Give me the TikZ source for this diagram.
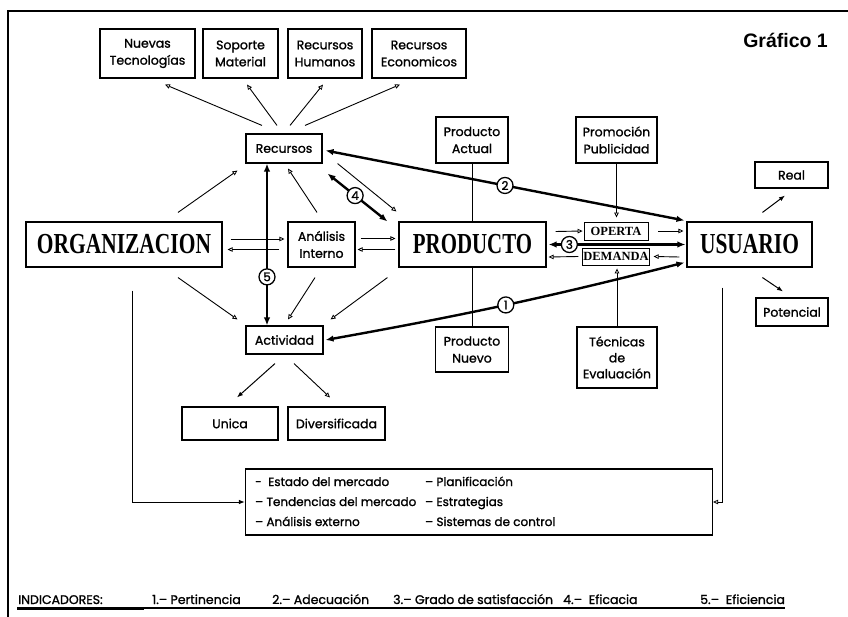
\documentclass[tikz,border=0pt]{standalone}
\usepackage{fontspec}
\usepackage{graphicx}
\usetikzlibrary{arrows.meta}
\newfontfamily\lblfont{Poppins}[FakeBold=1.3]
\newfontfamily\serifbig{Liberation Serif}
\newfontfamily\sansbold{Liberation Sans}
\begin{document}
\begin{tikzpicture}[x=1pt,y=-1pt,
  box/.style={draw, line width=1.1pt, align=center, inner sep=1pt, font=\lblfont\fontsize{12.5}{17}\selectfont},
  bigbox/.style={draw, line width=1.1pt, inner sep=1pt, minimum height=45pt, font=\serifbig\bfseries\fontsize{29}{29}\selectfont},
  tagbox/.style={draw, line width=0.9pt, inner sep=0.5pt, minimum width=64pt, font=\serifbig\bfseries\fontsize{12.5}{12.5}\selectfont},
  tarrow/.style={line width=0.9pt, -{Triangle[open,length=5pt,width=4.5pt,line width=0.8pt]}},
  sarrow/.style={line width=1pt, -{Latex[length=6pt,width=4.5pt]}},
  link/.style={line width=1pt},
  bolda/.style={line width=2.4pt, {Latex[length=8pt,width=6.5pt]}-{Latex[length=8pt,width=6.5pt]}},
  num/.style={circle, draw, line width=1.3pt, fill=white, inner sep=0pt, minimum size=16pt, font=\lblfont\fontsize{12}{12}\selectfont},
  foot/.style={anchor=base west, inner sep=0pt, font=\lblfont\fontsize{12.5}{12}\selectfont}
]
\useasboundingbox (0,0) rectangle (848,617);
% frame
\draw[line width=1.4pt] (8,617) -- (8,11) -- (848,11);
\node[anchor=base east, inner sep=0pt, font=\sansbold\bfseries\fontsize{19.5}{20}\selectfont] (title) at (828,48) {Gráfico 1};

% top boxes
\node[box, minimum width=95pt, minimum height=49pt] (nt) at (147.5,53.5) {Nuevas\\Tecnologías};
\node[box, minimum width=75pt, minimum height=49pt] (sm) at (240.5,53.5) {Soporte\\Material};
\node[box, minimum width=74pt, minimum height=49pt] (rh) at (325,53.5) {Recursos\\Humanos};
\node[box, minimum width=94pt, minimum height=49pt] (re) at (419,53.5) {Recursos\\Economicos};

\node[box, minimum width=76pt, minimum height=29pt] (rec) at (284,148.5) {Recursos};
\node[box, minimum width=72pt, minimum height=46pt] (pa) at (472,140) {Producto\\Actual};
\node[box, minimum width=81pt, minimum height=46pt] (pp) at (616.5,140) {Promoción\\Publicidad};
\node[box, minimum width=73pt, minimum height=26pt] (real) at (791.5,175) {Real};

\node[bigbox, minimum width=196pt] (org) at (124,244.5) {\scalebox{0.74}[1]{ORGANIZACION}};
\node[box, minimum width=67pt, minimum height=45pt] (an) at (321.5,244.5) {Análisis\\Interno};
\node[bigbox, minimum width=147pt] (prod) at (472.5,244.5) {\scalebox{0.72}[1]{PRODUCTO}};
\node[tagbox, minimum height=18pt] (op) at (616,231) {OPERTA};
\node[tagbox, minimum height=17pt] (dem) at (616,256.5) {DEMANDA};
\node[bigbox, minimum width=125pt] (usu) at (749.5,244.5) {\scalebox{0.74}[1]{USUARIO}};

\node[box, minimum width=72pt, minimum height=28pt] (pot) at (792,312) {Potencial};
\node[box, minimum width=77pt, minimum height=28pt] (act) at (284.5,340) {Actividad};
\node[box, minimum width=73pt, minimum height=45pt] (pn) at (472,349.5) {Producto\\Nuevo};
\node[box, minimum width=80pt, minimum height=61pt, font=\lblfont\fontsize{12.5}{16}\selectfont] (te) at (617,357.5) {Técnicas\\de\\Evaluación};
\node[box, minimum width=96pt, minimum height=33pt] (un) at (230,423.5) {Unica};
\node[box, minimum width=97pt, minimum height=33pt] (div) at (336.5,423.5) {Diversificada};

\node[draw, line width=1.1pt, minimum width=467pt, minimum height=66pt, inner sep=0pt] (bb) at (479,502) {};
\node[anchor=west, inner sep=0pt, align=left, font=\lblfont\fontsize{12}{20}\selectfont] (bbtext) at ([xshift=10]bb.west)
  {\begin{tabular}{@{}p{170pt}@{}l@{}}
   -\ \ Estado del mercado & – Planificación\\
   – Tendencias del mercado & – Estrategias\\
   – Análisis externo & – Sistemas de control
   \end{tabular}};

% Recursos to top boxes
\draw[tarrow] ([shift={(-22,-8)}]rec.north) -- ([shift={(17.5,6)}]nt.south);
\draw[tarrow] ([shift={(-7,-8)}]rec.north) -- ([shift={(6.5,6)}]sm.south);
\draw[tarrow] ([shift={(6,-8)}]rec.north) -- ([shift={(-2,6)}]rh.south);
\draw[tarrow] ([shift={(21,-8)}]rec.north) -- ([shift={(-19,6)}]re.south);

% into Recursos
\draw[tarrow] ([shift={(54,-9)}]org.north) -- ([shift={(-8,7)}]rec.south west);
\draw[tarrow] ([shift={(-4.5,-9)}]an.north) -- ([shift={(4,5)}]rec.south);

% indicator 5
\draw[bolda] ([xshift=-17]rec.south) -- ([xshift=-17.5]act.north) node[num, pos=0.7] {5};
% indicator 4
\draw[bolda] ([shift={(5,10)}]rec.south east) -- ([shift={(-11,0)}]prod.north west) node[num, pos=0.46] {4};
\draw[tarrow] ([shift={(15,0)}]rec.south east) -- ([shift={(-2,-10)}]prod.north west);
% indicator 2
\draw[bolda] ([shift={(3,2)}]rec.east) -- ([shift={(-2,-1)}]usu.north west) node[num, pos=0.5] {2};
% indicator 1
\draw[bolda] ([shift={(2,0)}]act.east) to[bend right=2] node[num, pos=0.5] {1} ([shift={(-2,-5)}]usu.south west);

% organizacion <-> analisis
\draw[tarrow] ([shift={(8,-5.5)}]org.east) -- ([shift={(-3,-5.5)}]an.west);
\draw[tarrow] ([shift={(-8,5)}]an.west) -- ([shift={(5,5)}]org.east);
% analisis <-> producto
\draw[tarrow] ([shift={(5,-6)}]an.east) -- ([shift={(-3,-6)}]prod.west);
\draw[tarrow] ([shift={(-3,5)}]prod.west) -- ([shift={(2,5)}]an.east);

% to Actividad
\draw[tarrow] ([shift={(54,10)}]org.south) -- ([shift={(-8,-6)}]act.north west);
\draw[tarrow] ([shift={(-6.5,10)}]an.south) -- ([shift={(3.5,-6)}]act.north);
\draw[tarrow] ([shift={(-11,10)}]prod.south west) -- ([shift={(7,-6)}]act.north east);

% Actividad to Unica / Diversificada
\draw[sarrow] ([shift={(-9.5,9)}]act.south) -- ([shift={(7,-9)}]un.north);
\draw[tarrow] ([shift={(9.5,9)}]act.south) -- ([shift={(-6.5,-9)}]div.north);

% producto actual / nuevo
\draw[link] (pa.south) -- (pa.south |- prod.north);
\draw[link] (pn.north |- prod.south) -- (pn.north);
% promocion / tecnicas
\draw[tarrow, shorten >=4pt] (pp.south) -- (pp.south |- op.north);
\draw[tarrow, shorten >=3pt] (te.north) -- (te.north |- dem.south);

% oferta / demanda
\draw[tarrow] ([shift={(9,-13)}]prod.east) -- ([shift={(-1,0)}]op.west);
\draw[tarrow] ([shift={(10,0)}]op.east) -- ([shift={(-3,-13.5)}]usu.west);
\draw[bolda] ([xshift=2]prod.east) -- ([xshift=-1]usu.west) node[num, pos=0.152] {3};
\draw[tarrow] ([shift={(-4,0)}]dem.west) -- ([shift={(2,12.5)}]prod.east);
\draw[tarrow] ([shift={(-7,12.5)}]usu.west) -- ([shift={(4,0)}]dem.east);

% usuario to real / potencial
\draw[sarrow] ([shift={(76,-9)}]usu.north west) -- ([shift={(-6.5,7)}]real.south);
\draw[sarrow] ([shift={(76,10)}]usu.south west) -- ([shift={(-9,-6)}]pot.north);

% lines to bottom box
\draw[sarrow] ([shift={(8,23)}]org.south) |- (bb.west);
\draw[tarrow] ([shift={(-27.5,20)}]usu.south) |- (bb.east);

% footer
\node[foot] (ind) at (18,604) {INDICADORES:};
\node[foot] (i1) at (152,604) {1.–\ Pertinencia};
\node[foot] (i2) at (272,604) {2.–\ Adecuación};
\node[foot] (i3) at (393,604) {3.–\ Grado de satisfacción};
\node[foot] (i4) at (563,604) {4.–\ \ Eficacia};
\node[foot] (i5) at (700,604) {5.–\ \ Eficiencia};
\draw[line width=2pt] ([shift={(-1,4)}]ind.base west) -- (i5.base east |- 0,608);
\draw[line width=3pt] ([shift={(-1,4.5)}]ind.base west) -- ([shift={(-8,4.5)}]i1.base west);
\end{tikzpicture}
\end{document}
